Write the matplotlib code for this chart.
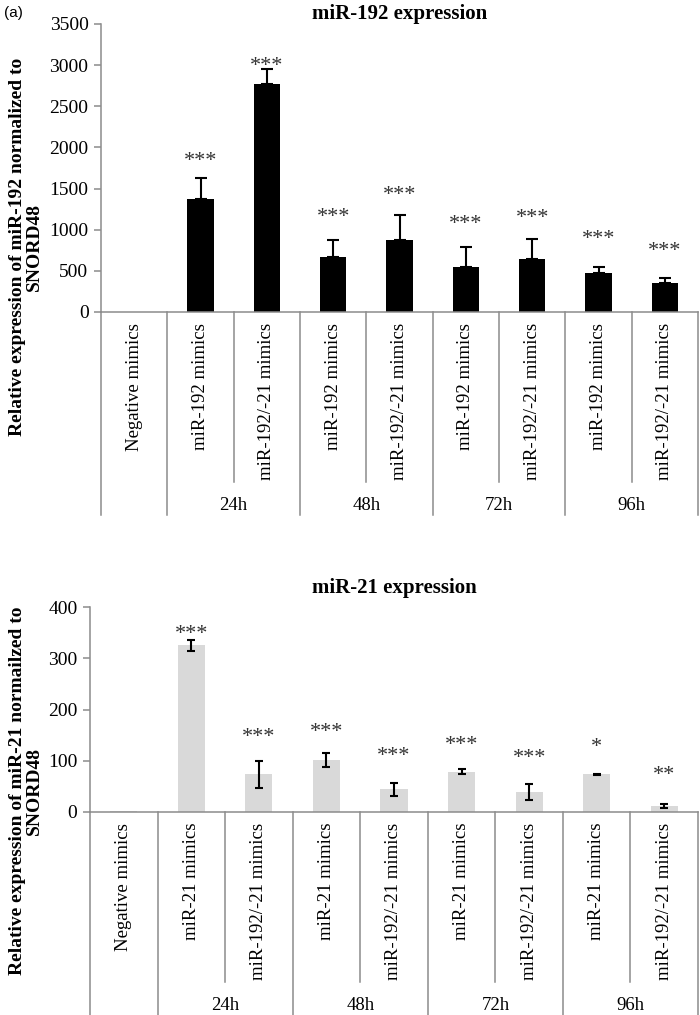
import numpy as np
import matplotlib
matplotlib.use('Agg')
import matplotlib.pyplot as plt

# Data ------------------------------------------------------------------------

groups = ['24h', '48h', '72h', '96h']

labels192 = ['Negative mimics'] + ['miR-192 mimics', 'miR-192/-21 mimics'] * 4
vals192 = [0, 1370, 2770, 672, 875, 550, 644, 470, 348]
err192 = [0, 255, 180, 200, 305, 236, 239, 80, 69]
sig192 = ['', '***', '***', '***', '***', '***', '***', '***', '***']
sig192_y = [0, 1895, 3055, 1219, 1482, 1138, 1207, 956, 802]

labels21 = ['Negative mimics'] + ['miR-21 mimics', 'miR-192/-21 mimics'] * 4
vals21 = [1.5, 325, 73.6, 102, 44, 79, 39, 74, 11]
err21 = [0, 10, 26, 14, 13, 5, 15, 1, 4]
sig21 = ['', '***', '***', '***', '***', '***', '***', '*', '**']
sig21_y = [0, 357, 156, 167, 119, 141, 115, 137, 83]

# Style -----------------------------------------------------------------------

plt.rcParams['font.family'] = ['Liberation Serif', 'DejaVu Serif']
GRID = '#8c8c8c'
W, H = 700, 1015

fig = plt.figure(figsize=(W / 100, H / 100), dpi=100)


def make_panel(box, vals, errs, labels, sig, sig_y, color, ymax, step,
               title, title_gap, ylabel, capsize, two_sided, label_y, cut_bottom):
    left, top, right, bottom = box
    ax = fig.add_axes([left / W, 1 - bottom / H, (right - left) / W, (bottom - top) / H])
    hpx = bottom - top
    x = np.arange(len(vals))
    ax.bar(x, vals, width=0.4, color=color, zorder=2)

    # error bars (upper only for miR-192, both sides for miR-21)
    ex = [i for i in x if errs[i] > 0]
    lo = [errs[i] if two_sided else 0 for i in ex]
    hi = [errs[i] for i in ex]
    ax.errorbar(ex, [vals[i] for i in ex], yerr=[lo, hi],
                fmt='none', ecolor='black', elinewidth=1.5, capsize=capsize,
                capthick=1.5, zorder=3)
    for i in x:
        if sig[i]:
            ax.annotate(sig[i], (i, sig_y[i]), xytext=(0, -7.5), textcoords='offset points',
                        ha='center', va='baseline', fontsize=16, color='#333333')

    ax.set_xlim(-0.5, len(vals) - 0.5)
    ax.set_ylim(0, ymax)
    ax.set_yticks(np.arange(0, ymax + 1, step))
    ax.tick_params(axis='y', length=5, width=1.1, color=GRID, labelsize=14, pad=4)
    ax.tick_params(axis='x', length=0, labelbottom=False)
    for s in ['top', 'right']:
        ax.spines[s].set_visible(False)
    for s in ['left', 'bottom']:
        ax.spines[s].set_color(GRID)
        ax.spines[s].set_linewidth(1.1)

    # category table under the axis
    trans = ax.get_xaxis_transform()
    inner = -170 / hpx
    outer = -(cut_bottom - bottom) / hpx
    for b in range(len(vals) + 1):
        edge = b - 0.5
        depth = inner if b in (2, 4, 6, 8) else outer
        ax.plot([edge, edge], [0, depth], transform=trans, color=GRID, lw=1.1,
                clip_on=False, zorder=1)
    for i, lab in enumerate(labels):
        ax.text(i, -11 / hpx, lab, transform=trans, rotation=90, ha='center', va='top',
                fontsize=13.5)
    for g, name in enumerate(groups):
        ax.text(1.5 + 2 * g, -193 / hpx, name, transform=trans, ha='center', va='center',
                fontsize=13.5)

    ax.set_title(title, fontsize=15, fontweight='bold', pad=0, y=1.0 + title_gap / hpx)
    fig.text(26 / W, 1 - label_y / H, ylabel, rotation=90, ha='center', va='center',
             fontsize=14, fontweight='bold', multialignment='center', linespacing=1.05)
    return ax


ax1 = make_panel((101, 24, 698, 312), vals192, err192, labels192, sig192, sig192_y,
                 'black', 3500, 500, 'miR-192 expression', 5,
                 'Relative expression of miR-192 normalized to\nSNORD48',
                 4.3, False, 247, 515)

ax2 = make_panel((90, 607, 698, 812), vals21, err21, labels21, sig21, sig21_y,
                 '#d9d9d9', 400, 100, 'miR-21 expression', 14,
                 'Relative expression of miR-21 normailzed to\nSNORD48',
                 3.0, True, 791, 1030)

fig.text(13 / W, 1 - 13 / H, '(a)', ha='center', va='center', fontsize=11,
         family='Liberation Sans')

fig.savefig('out.png', dpi=100)
